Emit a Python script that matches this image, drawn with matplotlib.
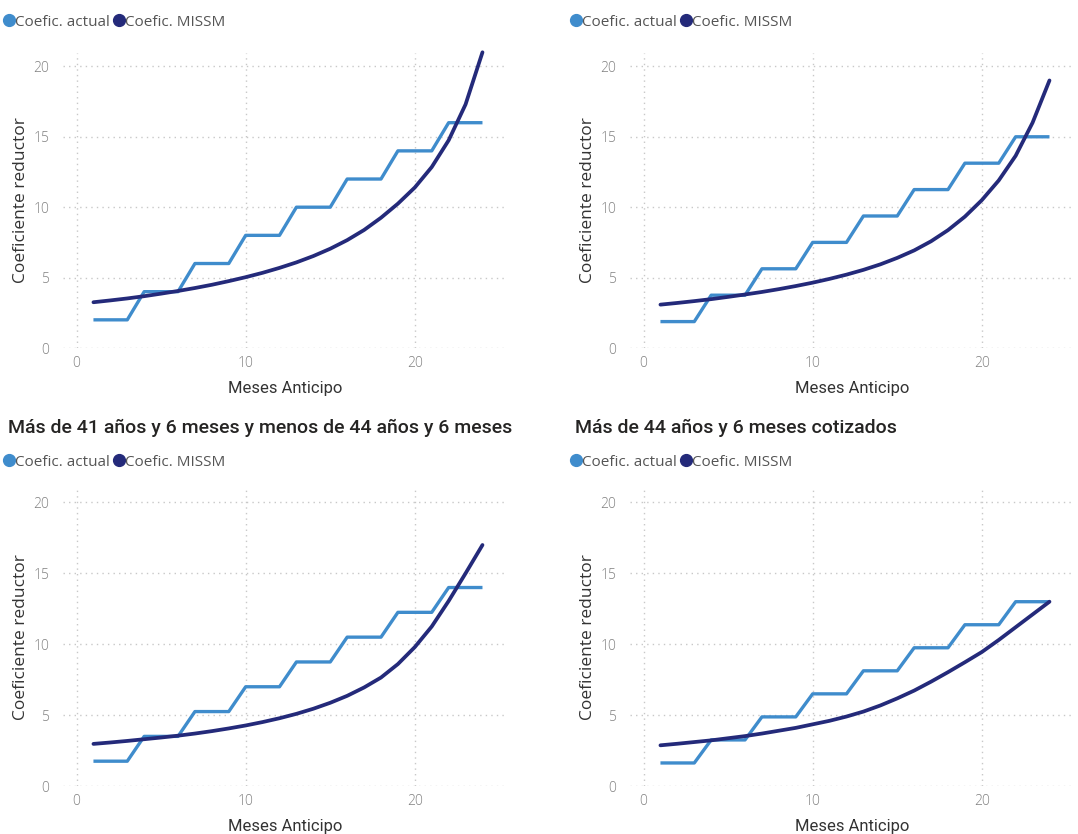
import numpy as np
import matplotlib
matplotlib.use("Agg")
import matplotlib.pyplot as plt
from matplotlib.lines import Line2D

# months of anticipation
meses = list(range(1, 25))

# current coefficient (steps per quarter)
actual_1 = [2, 2, 2, 4, 4, 4, 6, 6, 6, 8, 8, 8, 10, 10, 10, 12, 12, 12, 14, 14, 14, 16, 16, 16]
actual_2 = [1.875, 1.875, 1.875, 3.75, 3.75, 3.75, 5.625, 5.625, 5.625, 7.5, 7.5, 7.5,
            9.375, 9.375, 9.375, 11.25, 11.25, 11.25, 13.125, 13.125, 13.125, 15, 15, 15]
actual_3 = [1.75, 1.75, 1.75, 3.5, 3.5, 3.5, 5.25, 5.25, 5.25, 7, 7, 7,
            8.75, 8.75, 8.75, 10.5, 10.5, 10.5, 12.25, 12.25, 12.25, 14, 14, 14]
actual_4 = [1.625, 1.625, 1.625, 3.25, 3.25, 3.25, 4.875, 4.875, 4.875, 6.5, 6.5, 6.5,
            8.125, 8.125, 8.125, 9.75, 9.75, 9.75, 11.375, 11.375, 11.375, 13, 13, 13]

# MISSM proposal
missm_1 = [3.25, 3.38, 3.52, 3.68, 3.86, 4.05, 4.26, 4.49, 4.75, 5.03, 5.34, 5.69,
           6.08, 6.53, 7.05, 7.66, 8.38, 9.25, 10.25, 11.4, 12.85, 14.75, 17.3, 21.0]
missm_2 = [3.08, 3.20, 3.33, 3.47, 3.63, 3.80, 3.98, 4.18, 4.40, 4.64, 4.91, 5.21,
           5.55, 5.94, 6.40, 6.93, 7.58, 8.37, 9.33, 10.5, 11.9, 13.65, 16.0, 19.0]
missm_3 = [2.97, 3.07, 3.18, 3.30, 3.42, 3.55, 3.70, 3.87, 4.06, 4.27, 4.51, 4.78,
           5.09, 5.45, 5.87, 6.36, 6.95, 7.65, 8.6, 9.8, 11.25, 13.05, 15.0, 17.0]
missm_4 = [2.87, 2.98, 3.10, 3.22, 3.37, 3.52, 3.70, 3.90, 4.10, 4.35, 4.60, 4.90,
           5.25, 5.68, 6.18, 6.73, 7.36, 8.03, 8.73, 9.45, 10.3, 11.2, 12.1, 13.0]

titles = [None, None,
          "Más de 41 años y 6 meses y menos de 44 años y 6 meses",
          "Más de 44 años y 6 meses cotizados"]

C_ACT = "#3f8ccc"
C_MIS = "#242a7a"
GRID = "#c8c8c8"
TICK = "#808080"
LABEL = "#333333"

W, H = 1078, 834
fig = plt.figure(figsize=(W / 100, H / 100), dpi=100)

# axes boxes in pixels: left, top, right, bottom
boxes = [(63, 53, 507, 348), (630, 53, 1074, 348),
         (63, 489, 507, 786), (630, 489, 1074, 786)]
legend_y = [22, 22, 462, 462]
title_y = [None, None, 428, 428]

series = [(actual_1, missm_1), (actual_2, missm_2), (actual_3, missm_3), (actual_4, missm_4)]

for i, (act, mis) in enumerate(series):
    l, t, r, b = boxes[i]
    ax = fig.add_axes([l / W, 1 - b / H, (r - l) / W, (b - t) / H])
    ax.plot(meses, act, color=C_ACT, lw=2.4, solid_capstyle="butt", clip_on=False, zorder=3)
    ax.plot(meses, mis, color=C_MIS, lw=2.7, solid_capstyle="round", solid_joinstyle="round",
            clip_on=False, zorder=4)
    ax.set_xlim(-0.8, 25.45)
    ax.set_ylim(0, 20.95)
    ax.set_xticks([0, 10, 20])
    ax.set_yticks([0, 5, 10, 15, 20])
    ax.grid(True, color=GRID, linestyle=(0, (1, 3)), lw=1.0)
    for s in ax.spines.values():
        s.set_visible(False)
    ax.tick_params(length=0, labelsize=10, labelcolor=TICK)
    ax.tick_params(axis="y", pad=10)
    ax.tick_params(axis="x", pad=6)
    for lab in ax.get_xticklabels() + ax.get_yticklabels():
        lab.set_family("Open Sans")
        lab.set_fontweight("light")
    ax.set_xlabel("Meses Anticipo", fontsize=12, color=LABEL, family="Roboto")
    ax.set_ylabel("Coeficiente reductor", fontsize=12.5, color=LABEL, family="Open Sans")
    ax.xaxis.set_label_coords(0.5, -40 / (b - t))
    ax.yaxis.set_label_coords(-42 / (r - l), 0.5)
    ax.yaxis.label.set_va("center")
    ax.xaxis.label.set_va("center")

    handles = [Line2D([], [], ls="", marker="o", ms=8.5, color=C_ACT, label="Coefic. actual"),
               Line2D([], [], ls="", marker="o", ms=8.5, color=C_MIS, label="Coefic. MISSM")]
    fig.legend(handles=handles, loc="center left", ncol=2, frameon=False,
               bbox_to_anchor=((l - 63 + 5) / W, 1 - legend_y[i] / H),
               handlelength=0.5, handletextpad=0.15, columnspacing=0.35, borderpad=0,
               borderaxespad=0, prop={"family": "Open Sans", "size": 11}, labelcolor="#555555")

    if titles[i]:
        fig.text((l - 63 + 8) / W, 1 - title_y[i] / H, titles[i], ha="left", va="center",
                 fontsize=14, color="#252423", family="Roboto", fontweight="medium")

fig.savefig("out.png", dpi=100, facecolor="white")
